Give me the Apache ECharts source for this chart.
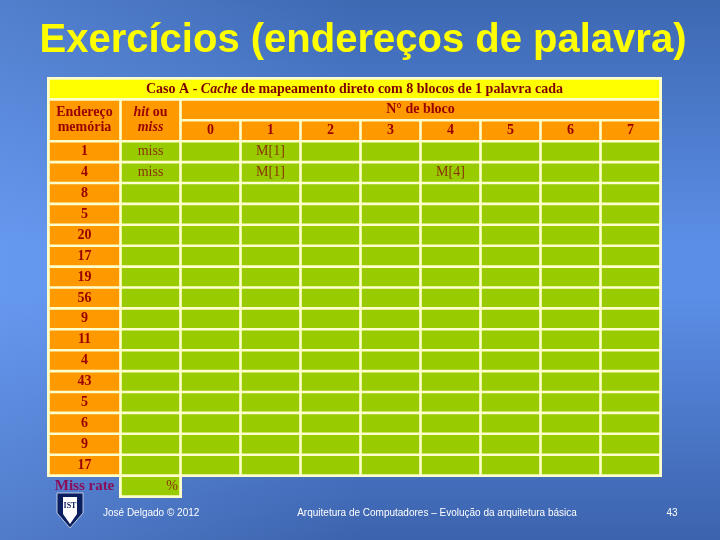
<!DOCTYPE html>
<html><head><meta charset="utf-8">
<script src="https://cdn.jsdelivr.net/npm/echarts@6/dist/echarts.min.js"></script>
<style>html,body{margin:0;padding:0;background:#4a78c4}#c{width:720px;height:540px}</style>
</head><body><div id="c"></div>
<script>
// ---- content ----
const slideTitle = 'Exercícios (endereços de palavra)';
const tableCaption = ['Caso A - ', 'Cache', ' de mapeamento direto com 8 blocos de 1 palavra cada'];
const addrHeader = ['Endereço', 'memória'];
const hitHeader = ['hit', ' ou', 'miss'];
const blockHeader = 'N° de bloco';
const blockLabels = ['0', '1', '2', '3', '4', '5', '6', '7'];
const addresses = ['1', '4', '8', '5', '20', '17', '19', '56', '9', '11', '4', '43', '5', '6', '9', '17'];
const hitOrMiss = ['miss', 'miss', '', '', '', '', '', '', '', '', '', '', '', '', '', ''];
const cacheEntries = [[0, 1, 'M[1]'], [1, 1, 'M[1]'], [1, 4, 'M[4]']]; // [row, block, content]
const missRateLabel = 'Miss rate';
const missRateValue = '%';
const footerLeft = 'José Delgado © 2012';
const footerCenter = 'Arquitetura de Computadores – Evolução da arquitetura básica';
const pageNumber = '43';

// ---- styles ----
const C = { yellow: '#FFFF00', orange: '#FF9900', green: '#99CC00', cream: '#FFFFCC',
  head: '#990000', body: '#883300', cap: '#800000', miss: '#880E5A' };
const SERIF = '"Liberation Serif","Times New Roman",serif';

// column edges in axis units (1 unit = one block column)
const colEdges = [0, 1.2, 2.2];
blockLabels.forEach((b, i) => colEdges.push(3.2 + i));
const lastX = colEdges[colEdges.length - 1];
const firstDataRow = 3;
const missRow = firstDataRow + addresses.length;

const cells = [];
function cell(x0, x1, y0, y1, fill, pad, text, extra) {
  cells.push(Object.assign({ x0, x1, y0, y1, fill, pad, text }, extra || {}));
}
// cream frames
cell(0, lastX, 0, missRow, C.cream, -1.5);
cell(colEdges[1], colEdges[2], missRow - 0.2, missRow + 1, C.cream, -1.5);
// caption
cell(0, lastX, 0, 1, C.yellow, 1.3,
  '{n|' + tableCaption[0] + '}{i|' + tableCaption[1] + '}{n|' + tableCaption[2] + '}',
  { rich: { n: { fontFamily: SERIF, fontSize: 14, fontWeight: 'bold', fill: C.cap },
            i: { fontFamily: SERIF, fontSize: 14, fontWeight: 'bold', fontStyle: 'italic', fill: C.cap } } });
// header
cell(colEdges[0], colEdges[1], 1, 3, C.orange, 1.3, addrHeader.join('\n'),
  { bold: true, color: C.head, lineHeight: 15 });
cell(colEdges[1], colEdges[2], 1, 3, C.orange, 1.3,
  '{i|' + hitHeader[0] + '}{n|' + hitHeader[1] + '}\n{i|' + hitHeader[2] + '}',
  { rich: { n: { fontFamily: SERIF, fontSize: 14, fontWeight: 'bold', fill: C.head, lineHeight: 15 },
            i: { fontFamily: SERIF, fontSize: 14, fontWeight: 'bold', fontStyle: 'italic', fill: C.head, lineHeight: 15 } } });
cell(colEdges[2], lastX, 1, 2, C.orange, 1.3, blockHeader, { bold: true, color: C.head });
blockLabels.forEach((b, i) => cell(colEdges[2 + i], colEdges[3 + i], 2, 3, C.orange, 1.3, b, { bold: true, color: C.head }));
// data rows
addresses.forEach((a, r) => {
  const y = firstDataRow + r;
  cell(colEdges[0], colEdges[1], y, y + 1, C.orange, 1.3, a, { bold: true, color: C.head });
  cell(colEdges[1], colEdges[2], y, y + 1, C.green, 1.3, hitOrMiss[r], { color: C.body });
  blockLabels.forEach((b, i) => {
    const e = cacheEntries.find(en => en[0] === r && en[1] === i);
    cell(colEdges[2 + i], colEdges[3 + i], y, y + 1, C.green, 1.3, e ? e[2] : '', { color: C.body });
  });
});
// miss rate
cell(colEdges[0], colEdges[1], missRow, missRow + 1, 'rgba(0,0,0,0)', 0, missRateLabel,
  { bold: true, color: C.miss, size: 15 });
cell(colEdges[1], colEdges[2], missRow, missRow + 1, C.green, 1.3, missRateValue,
  { color: C.body, pos: 'insideRight', dist: 7 });

function renderItem(params, api) {
  const c = cells[params.dataIndex];
  const p0 = api.coord([c.x0, c.y0]);
  const p1 = api.coord([c.x1, c.y1]);
  const x = Math.min(p0[0], p1[0]) + c.pad, y = Math.min(p0[1], p1[1]) + c.pad;
  const w = Math.abs(p1[0] - p0[0]) - 2 * c.pad, h = Math.abs(p1[1] - p0[1]) - 2 * c.pad;
  const el = { type: 'rect', shape: { x, y, width: w, height: h }, style: { fill: c.fill } };
  if (c.text) {
    el.textContent = { style: c.rich ? { text: c.text, rich: c.rich, align: 'center' } : {
      text: c.text, fill: c.color, fontFamily: SERIF, fontSize: c.size || 14,
      fontWeight: c.bold ? 'bold' : 'normal', lineHeight: c.lineHeight || 16, align: 'center' } };
    el.textConfig = { position: c.pos || 'inside', distance: c.dist || 0 };
  }
  return el;
}

const chart = echarts.init(document.getElementById('c'), null, { renderer: 'canvas' });
chart.setOption({
  animation: false,
  grid: { left: 48.5, top: 78.5, width: 612, height: 418 },
  xAxis: { type: 'value', min: 0, max: lastX, show: false },
  yAxis: { type: 'value', min: 0, max: missRow + 1, inverse: true, show: false },
  graphic: [
    { type: 'rect', z: -10, shape: { x: 0, y: 0, width: 720, height: 540 },
      style: { fill: new echarts.graphic.LinearGradient(0, 0, 0, 1, [
        { offset: 0, color: '#3D68B2' }, { offset: 0.45, color: '#5B8EE6' },
        { offset: 0.55, color: '#5B8EE6' }, { offset: 1, color: '#3C63AD' }]) } },
    { type: 'rect', z: -9, shape: { x: 0, y: 0, width: 720, height: 540 },
      style: { fill: new echarts.graphic.LinearGradient(0, 0, 1, 0, [
        { offset: 0, color: 'rgba(120,170,255,0.35)' }, { offset: 0.5, color: 'rgba(120,170,255,0)' }]) } },
    { type: 'text', x: 363, y: 41, style: { text: slideTitle, fill: '#FFFF00',
      font: 'bold 40px "Liberation Sans", Arial, sans-serif', align: 'center', verticalAlign: 'middle' } },
    { type: 'text', x: 103, y: 513, style: { text: footerLeft, fill: '#FFFFFF',
      font: '10px "Liberation Sans", Arial, sans-serif', align: 'left', verticalAlign: 'middle' } },
    { type: 'text', x: 437, y: 513, style: { text: footerCenter, fill: '#FFFFFF',
      font: '10px "Liberation Sans", Arial, sans-serif', align: 'center', verticalAlign: 'middle' } },
    { type: 'text', x: 672, y: 513, style: { text: pageNumber, fill: '#FFFFFF',
      font: '10px "Liberation Sans", Arial, sans-serif', align: 'center', verticalAlign: 'middle' } },
    // logo (shield)
    { type: 'polygon', shape: { points: [[57, 493], [83, 493], [83, 513], [70, 528], [57, 513]] },
      style: { fill: '#0B1E5E', stroke: '#DDE4F2', lineWidth: 0.8 } },
    { type: 'polygon', shape: { points: [[63, 497], [77, 497], [77, 514], [70, 524], [63, 514]] },
      style: { fill: '#FFFFFF' } },
    { type: 'text', x: 70, y: 506, style: { text: 'IST', fill: '#0B1E5E',
      font: 'bold 8px "Liberation Serif", serif', align: 'center', verticalAlign: 'middle' } }
  ],
  series: [{
    type: 'custom', renderItem, clip: false,
    encode: { x: [0, 1], y: [2, 3] },
    data: cells.map(c => [c.x0, c.x1, c.y0, c.y1])
  }]
});
</script></body></html>
